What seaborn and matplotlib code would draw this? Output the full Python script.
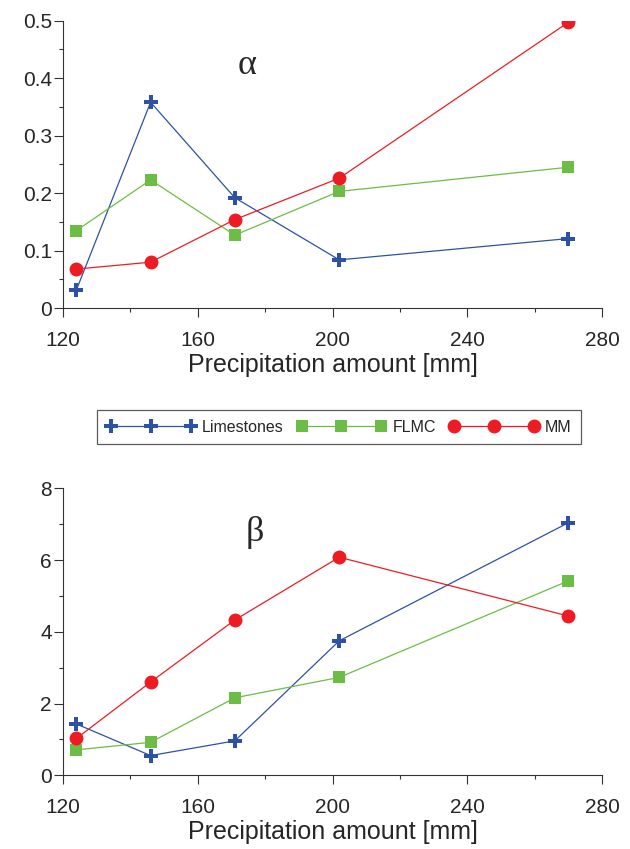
import numpy as np
import pandas as pd
import matplotlib
matplotlib.use("Agg")
import matplotlib.pyplot as plt
from matplotlib.ticker import MultipleLocator
import seaborn as sns

# Values
precip = [124, 146, 171, 202, 270]
series_names = ["Limestones", "FLMC", "MM"]

alpha_limestones = [0.032, 0.358, 0.192, 0.084, 0.121]
alpha_flmc = [0.135, 0.223, 0.127, 0.203, 0.245]
alpha_mm = [0.068, 0.080, 0.154, 0.226, 0.497]

beta_limestones = [1.43, 0.55, 0.96, 3.75, 7.04]
beta_flmc = [0.71, 0.92, 2.16, 2.73, 5.42]
beta_mm = [1.03, 2.60, 4.33, 6.08, 4.44]

colors = {"Limestones": "#2D51A5", "FLMC": "#6CBD45", "MM": "#ED1C24"}
markers = {"Limestones": "P", "FLMC": "s", "MM": "o"}
msizes = {"Limestones": 9.5, "FLMC": 9, "MM": 10}

sns.set_theme(style="ticks")
plt.rcParams["font.family"] = ["Liberation Sans", "DejaVu Sans"]


def long_df(vals):
    rows = []
    for name, v in zip(series_names, vals):
        for x, y in zip(precip, v):
            rows.append({"precip": x, "value": y, "series": name})
    return pd.DataFrame(rows)


df_alpha = long_df([alpha_limestones, alpha_flmc, alpha_mm])
df_beta = long_df([beta_limestones, beta_flmc, beta_mm])

fig = plt.figure(figsize=(6.3, 8.49), dpi=100)
ax1 = fig.add_axes([0.1, 0.637, 0.8556, 0.3388])
ax2 = fig.add_axes([0.1, 0.0868, 0.8556, 0.338])


def draw(ax, df, ymax, ymaj, ymin, label, lx, ly):
    for name in series_names:
        sub = df[df["series"] == name]
        sns.lineplot(data=sub, x="precip", y="value", ax=ax, color=colors[name],
                     marker=markers[name], markersize=msizes[name],
                     markeredgewidth=0, linewidth=0.9, label=name, legend=False)
    ax.set_xlim(120, 280)
    ax.set_ylim(0, ymax)
    ax.xaxis.set_major_locator(MultipleLocator(40))
    ax.xaxis.set_minor_locator(MultipleLocator(20))
    ax.yaxis.set_major_locator(MultipleLocator(ymaj))
    ax.yaxis.set_minor_locator(MultipleLocator(ymin))
    ax.tick_params(which="major", length=6.5, width=0.8, labelsize=15, color="#333333")
    ax.tick_params(axis="x", which="major", pad=10)
    ax.tick_params(axis="y", which="major", pad=1.5)
    ax.tick_params(which="minor", length=3, width=0.8, color="#333333")
    ax.set_xlabel("Precipitation amount [mm]", fontsize=18, labelpad=2)
    ax.set_ylabel("")
    for s in ["top", "right"]:
        ax.spines[s].set_visible(False)
    for s in ["left", "bottom"]:
        ax.spines[s].set_linewidth(0.8)
        ax.spines[s].set_color("#333333")
    ax.text(lx, ly, label, transform=ax.transAxes, fontsize=26,
            family=["Liberation Serif", "DejaVu Serif"], ha="center", va="center")


draw(ax1, df_alpha, 0.5, 0.1, 0.05, "α", 0.341, 0.845)
draw(ax2, df_beta, 8, 2, 1, "β", 0.356, 0.845)
ax1.yaxis.set_major_formatter(plt.FuncFormatter(lambda v, p: "0" if v == 0 else f"{v:.1f}"))

handles = ax1.get_lines()[:3]
leg = fig.legend(handles, series_names, loc="center", bbox_to_anchor=(0.538, 0.497),
                 ncol=3, numpoints=3, fontsize=11.5, frameon=True, fancybox=False,
                 edgecolor="#333333", handlelength=5.6, handletextpad=0.4,
                 columnspacing=0.8, borderpad=0.6)
leg.get_frame().set_linewidth(0.9)

fig.savefig("out.png", dpi=100)
